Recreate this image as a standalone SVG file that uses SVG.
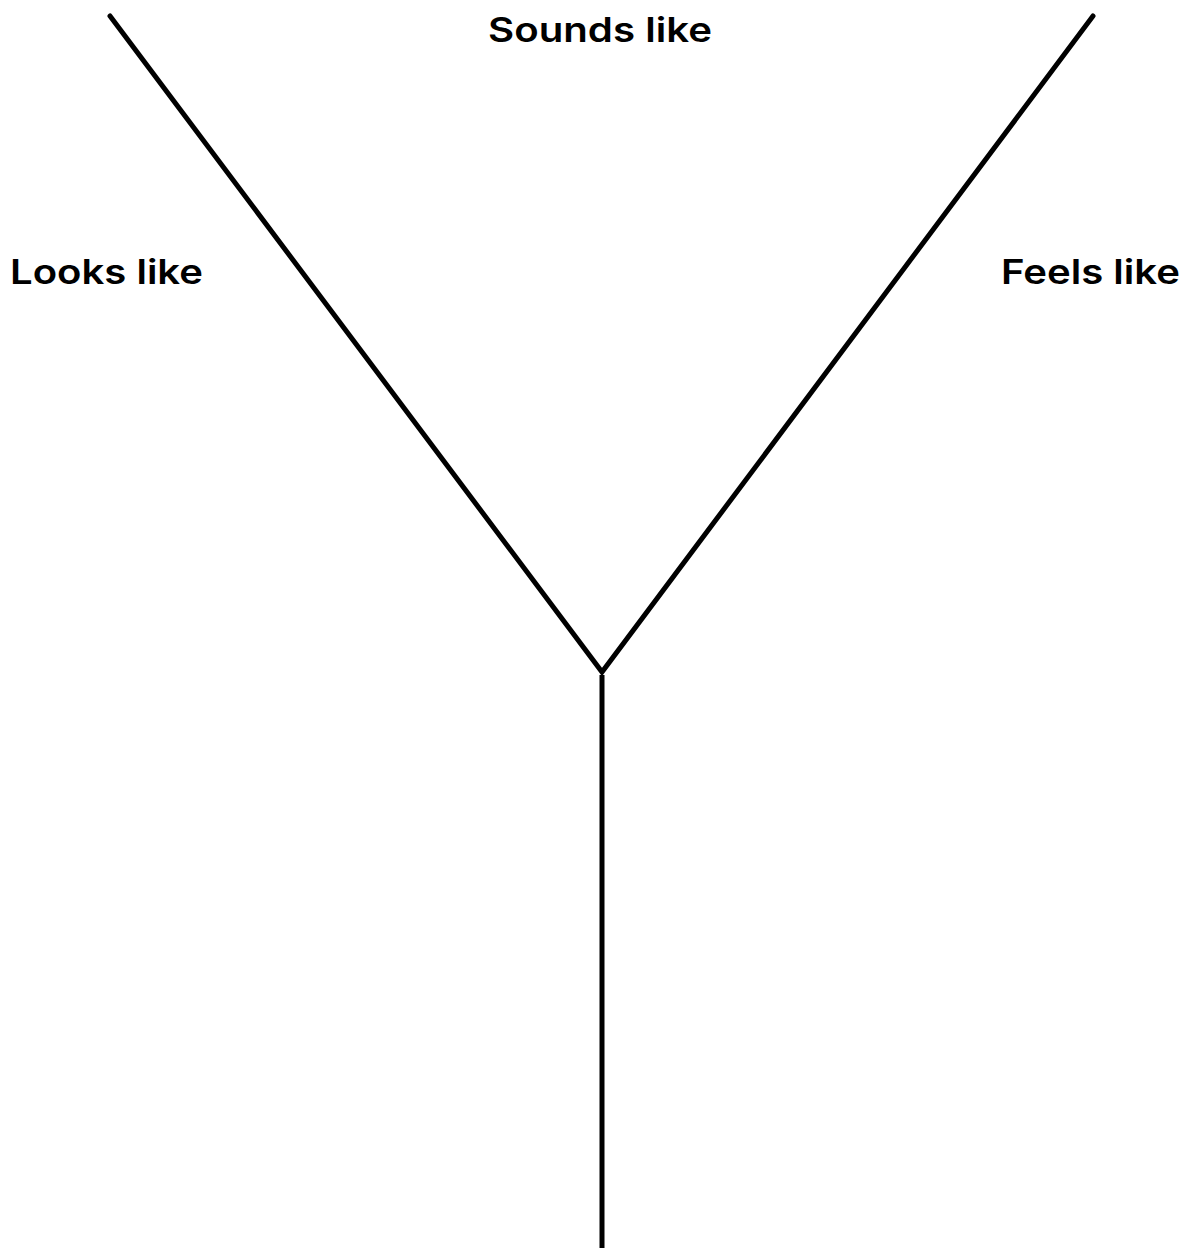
<svg xmlns="http://www.w3.org/2000/svg" width="1188" height="1248" viewBox="0 0 1188 1248">
<style>
.lbl{font-family:Inter,"Liberation Sans",Arial,sans-serif;font-weight:600;font-size:34px;fill:#000}
.ln{stroke:#000;stroke-width:5;fill:none;stroke-linecap:round;stroke-linejoin:miter}
</style>
<rect width="1188" height="1248" fill="#fff"/>
<g id="connectors">
<polyline class="ln" points="110,16 602,672 1093,16"/>
<line class="ln" x1="602" y1="675" x2="602" y2="1250" style="stroke-linecap:butt"/>
</g>
<g id="sounds"><text class="lbl" x="488" y="42" textLength="224" lengthAdjust="spacingAndGlyphs">Sounds like</text></g>
<g id="looks"><text class="lbl" x="10" y="284" textLength="193" lengthAdjust="spacingAndGlyphs">Looks like</text></g>
<g id="feels"><text class="lbl" x="1001" y="284" textLength="179" lengthAdjust="spacingAndGlyphs">Feels like</text></g>
</svg>
